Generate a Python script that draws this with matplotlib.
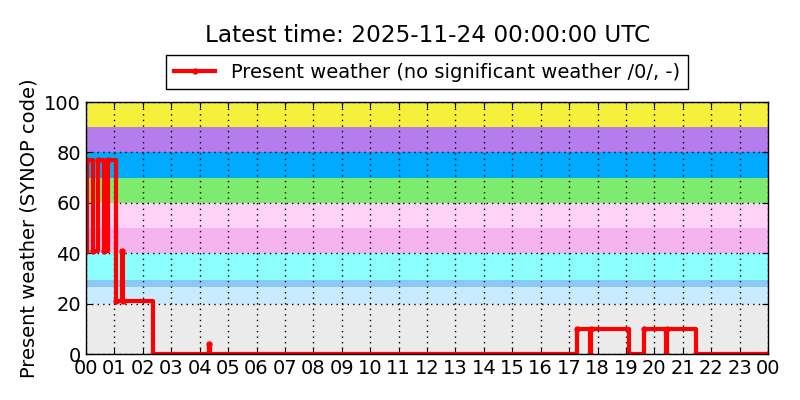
import matplotlib
matplotlib.use('Agg')
import matplotlib.pyplot as plt

# change points of present weather, minutes after 00 UTC
minutes = [0, 3, 14, 26, 37, 47, 64, 75, 79, 141, 260, 261,
           1036, 1064, 1066, 1146, 1178, 1224, 1226, 1287, 1440]
ww_code = [41, 77, 41, 77, 41, 77, 21, 41, 21, 0, 4, 0,
           10, 0, 10, 0, 10, 0, 10, 0, 0]

# background bands (SYNOP ww groups)
band_lo = [0, 20, 26.5, 29.5, 40, 50, 60, 70, 80, 90]
band_hi = [20, 26.5, 29.5, 40, 50, 60, 70, 80, 90, 100]
band_col = ['#ebebeb', '#c8ebff', '#8cc8f5', '#8cffff', '#f5b4ee',
            '#ffd2f8', '#7deb6e', '#00aaff', '#b47deb', '#f5f03c']

hour_labels = ['%02d' % h for h in range(24)] + ['00']

fig = plt.figure(figsize=(8, 4), dpi=100, facecolor='white')
ax = fig.add_axes([0.1075, 0.115, 0.8525, 0.63])

for lo, hi, c in zip(band_lo, band_hi, band_col):
    ax.axhspan(lo, hi, color=c, lw=0, zorder=0)

hours = [m / 60.0 for m in minutes]
ax.plot(hours, ww_code, color='red', lw=3, marker='.', ms=7, mec='red',
        drawstyle='steps-post', zorder=3,
        label='Present weather (no significant weather /0/, -)')

ax.set_xlim(0, 24)
ax.set_ylim(0, 100)
ax.set_xticks(range(25))
ax.set_xticklabels(hour_labels)
ax.set_yticks(range(0, 101, 20))
ax.tick_params(direction='in', top=True, right=True, labelsize=14, length=4)
ax.grid(True, color='black', linestyle=(0, (1, 3)), linewidth=1, zorder=1)
ax.set_axisbelow(False)
for s in ax.spines.values():
    s.set_linewidth(1)
    s.set_zorder(4)
ax.set_ylabel('Present weather (SYNOP code)', fontsize=14)

ax.legend(loc='lower center', bbox_to_anchor=(0.5, 1.05), numpoints=1,
          fontsize=14, fancybox=False, edgecolor='black', framealpha=1,
          borderaxespad=0, handlelength=2.1)
fig.text(0.535, 0.91, 'Latest time: 2025-11-24 00:00:00 UTC', ha='center',
         va='center', fontsize=16.7)

fig.savefig('out.png', dpi=100, facecolor='white')
